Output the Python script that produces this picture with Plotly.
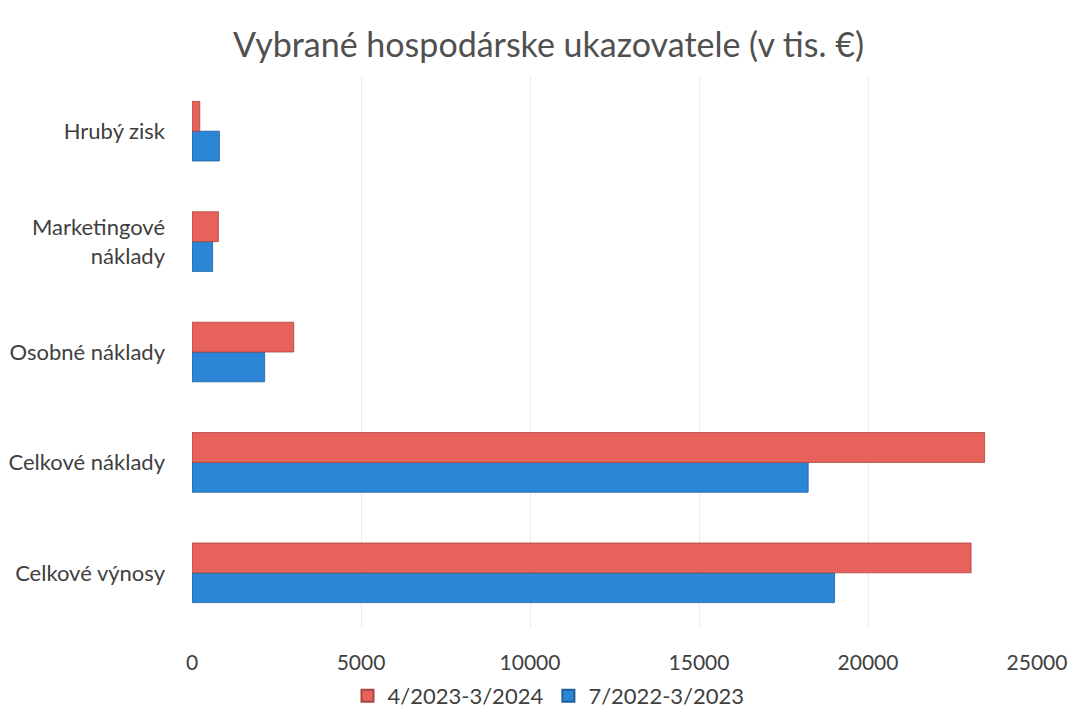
import plotly.graph_objects as go

categories = ["Celkové výnosy", "Celkové náklady", "Osobné náklady",
              "Marketingové<br>náklady", "Hrubý zisk"]
series_names = ["4/2023-3/2024", "7/2022-3/2023"]
values_2023_2024 = [23050, 23450, 3010, 780, 230]
values_2022_2023 = [19010, 18230, 2150, 610, 810]
x_ticks = [0, 5000, 10000, 15000, 20000, 25000]

red = "#E8625C"
blue = "#2B86D8"

fig = go.Figure()
# blue first so it sits below the red bar in each group
fig.add_trace(go.Bar(
    y=categories, x=values_2022_2023, name=series_names[1], orientation="h",
    marker=dict(color=blue, line=dict(color="#1f5f9a", width=0.8)),
))
fig.add_trace(go.Bar(
    y=categories, x=values_2023_2024, name=series_names[0], orientation="h",
    marker=dict(color=red, line=dict(color="#a8443f", width=0.8)),
))

fig.update_layout(
    width=1081, height=713,
    title=dict(text="Vybrané hospodárske ukazovatele (v tis. €)",
               x=0.5, xanchor="center", y=0.948, yanchor="middle",
               font=dict(family="Lato", size=34, color="#505050")),
    barmode="group", bargap=0.46, bargroupgap=0,
    plot_bgcolor="white", paper_bgcolor="white",
    font=dict(family="Lato", size=22, color="#404040"),
    margin=dict(l=184, r=52, t=68, b=93, autoexpand=False),
    legend=dict(orientation="h", traceorder="reversed", xref="container",
                x=0.5, xanchor="center", y=-0.085, yanchor="top",
                font=dict(size=22), itemwidth=30, itemsizing="constant"),
    xaxis=dict(range=[0, 25000], tickvals=x_ticks,
               ticktext=[str(v) for v in x_ticks], showgrid=True,
               gridcolor="#ececec", zeroline=False, ticks="",
               tickfont=dict(size=21), ticklabelstandoff=20, automargin=False),
    yaxis=dict(showgrid=False, ticks="", ticklabelstandoff=26, showline=False,
               automargin=False),
)

fig.write_html("out.html")
